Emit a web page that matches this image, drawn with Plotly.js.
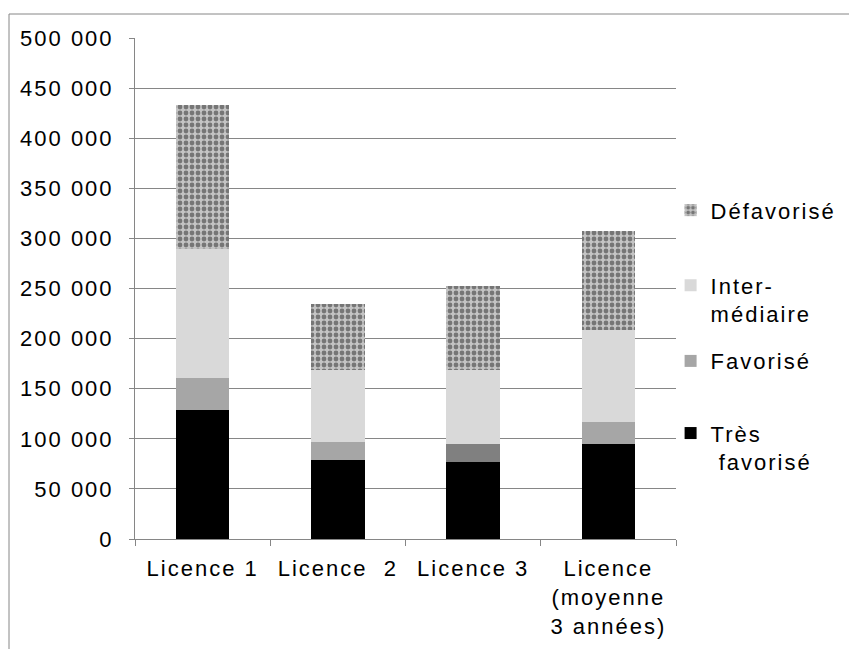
<!DOCTYPE html>
<html>
<head>
<meta charset="utf-8">
<script src="https://cdn.plot.ly/plotly-3.0.1.min.js"></script>
<style>
html,body{margin:0;padding:0;background:#fff;}
#chart{width:849px;height:649px;}
#chart svg text{letter-spacing:2px;}
#chart .scrollbox{clip-path:none !important;}
</style>
</head>
<body>
<div id="chart"></div>
<script>
// ---- data ----
const categories = ['Licence 1', 'Licence \u00a02', 'Licence 3', 'Licence<br>(moyenne<br>3 années)'];
const tresFavorise  = [129000, 79000, 77000, 95000];
const favorise      = [32000, 18000, 18000, 22000];
const intermediaire = [128000, 72000, 74000, 92000];
const defavorise    = [144500, 66000, 83500, 98000];
const yTickValues   = [0, 50000, 100000, 150000, 200000, 250000, 300000, 350000, 400000, 450000, 500000];

// ---- styles ----
const favoriseColors = ['#a6a6a6', '#a6a6a6', '#808080', '#a6a6a6'];
const FONT = 'Liberation Sans, Arial, sans-serif';
const GRID = '#868686';

const traces = [
  {type: 'bar', name: 'Très<br>\u00a0favorisé', x: categories, y: tresFavorise,
   marker: {color: '#000000', line: {width: 0}}, legend: 'legend4'},
  {type: 'bar', name: 'Favorisé', x: categories, y: favorise,
   marker: {color: favoriseColors, line: {width: 0}}, legend: 'legend3'},
  {type: 'bar', name: 'Inter-<br>médiaire', x: categories, y: intermediaire,
   marker: {color: '#d9d9d9', line: {width: 0}}, legend: 'legend2'},
  {type: 'bar', name: 'Défavorisé', x: categories, y: defavorise,
   marker: {color: '#b0b0b0', line: {width: 0},
            pattern: {shape: '.', fgcolor: '#767676', bgcolor: '#c4c4c4', size: 6, solidity: 0.5}},
   legend: 'legend'}
];

function leg(y) {
  return {x: 0.99, xanchor: 'left', y: y, yanchor: 'top', valign: 'top',
          bgcolor: 'rgba(0,0,0,0)', font: {family: FONT, size: 22, color: '#000'}};
}

const layout = {
  width: 849, height: 649,
  margin: {l: 135, r: 173, t: 38, b: 110},
  paper_bgcolor: '#ffffff', plot_bgcolor: '#ffffff',
  separators: ', ',
  barmode: 'stack', bargap: 0.605,
  font: {family: FONT, size: 22, color: '#000'},
  showlegend: true,
  legend: leg(0.698),
  legend2: leg(0.548),
  legend3: leg(0.397),
  legend4: leg(0.253),
  xaxis: {
    type: 'category', showgrid: false,
    showline: true, linecolor: GRID, linewidth: 1,
    ticks: 'outside', tickson: 'boundaries', ticklen: 6, tickcolor: GRID,
    ticklabelstandoff: 10,
    tickfont: {family: FONT, size: 22, color: '#000'}
  },
  yaxis: {
    range: [0, 500000], tickvals: yTickValues, tickformat: ',d',
    showgrid: true, gridcolor: GRID, gridwidth: 1, zeroline: false,
    showline: true, linecolor: GRID, linewidth: 1,
    ticks: 'outside', ticklen: 5, tickcolor: GRID,
    ticklabelstandoff: 11,
    tickfont: {family: FONT, size: 22, color: '#000'}
  },
  shapes: [
    {type: 'rect', xref: 'paper', yref: 'paper', x0: -0.2329, x1: 1.6, y0: -0.5, y1: 1.0479,
     line: {color: '#868686', width: 1}, fillcolor: 'rgba(0,0,0,0)', layer: 'below'}
  ]
};

Plotly.newPlot('chart', traces, layout, {displayModeBar: false, staticPlot: true});
</script>
</body>
</html>
